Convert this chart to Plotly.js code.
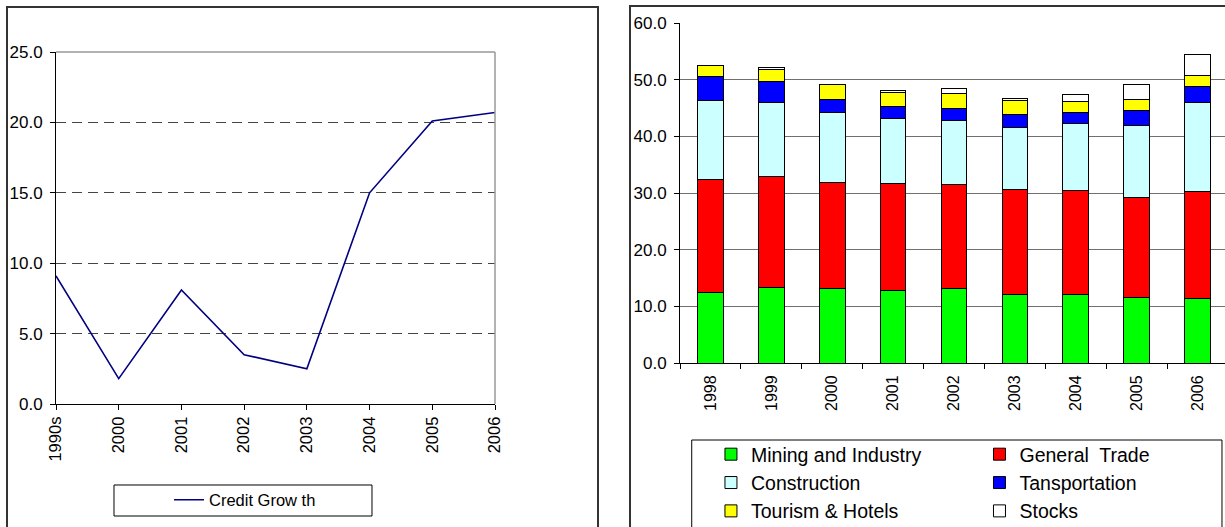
<!DOCTYPE html>
<html><head><meta charset="utf-8">
<script src="https://cdn.plot.ly/plotly-3.0.1.min.js"></script>
<style>
html,body{margin:0;padding:0;width:1225px;height:527px;overflow:hidden;background:#fff;}
.frame{position:absolute;box-sizing:border-box;border:2px solid #333;}
#lframe{left:6px;top:6px;width:593px;height:560px;}
#rframe{left:629px;top:5px;width:700px;height:560px;}
#left{position:absolute;left:0;top:0;width:605px;height:527px;}
#right{position:absolute;left:630px;top:0;width:610px;height:527px;}
</style></head>
<body>
<div class="frame" id="lframe"></div>
<div class="frame" id="rframe"></div>
<div id="left"></div>
<div id="right"></div>
<script>
// ---- Left chart data ----
const creditLabels = ['1990s','2000','2001','2002','2003','2004','2005','2006'];
const creditGrowth = [9.1, 1.8, 8.1, 3.5, 2.5, 15.0, 20.1, 20.7];

// ---- Right chart data ----
const years = ['1998','1999','2000','2001','2002','2003','2004','2005','2006'];
const mining       = [12.5, 13.3, 13.1, 12.8, 13.1, 12.1, 12.1, 11.6, 11.3];
const generalTrade = [19.8, 19.6, 18.7, 18.9, 18.4, 18.5, 18.3, 17.6, 19.0];
const construction = [14.1, 13.0, 12.4, 11.4, 11.3, 11.0, 11.8, 12.7, 15.7];
const transport    = [4.1, 3.7, 2.3, 2.2, 2.2, 2.3, 2.0, 2.6, 2.8];
const tourism      = [2.0, 2.2, 2.6, 2.5, 2.6, 2.5, 2.0, 2.0, 2.0];
const stocks       = [0.0, 0.3, 0.0, 0.3, 0.9, 0.3, 1.2, 2.6, 3.7];

const FONT = 'Liberation Sans, Arial, sans-serif';
const cfg = {displayModeBar:false, staticPlot:true};

// ---------- Left: line chart ----------
const leftLayout = {
  width:605, height:527,
  margin:{l:56, r:110, t:52, b:123, autoexpand:false},
  paper_bgcolor:'rgba(0,0,0,0)', plot_bgcolor:'#fff',
  font:{family:FONT, size:16, color:'#000'},
  showlegend:true,
  legend:{x:0.2574, y:-0.2727, xanchor:'left', yanchor:'middle',
          bgcolor:'rgba(0,0,0,0)', borderwidth:0, font:{family:FONT, size:16.5, color:'#000'}},
  xaxis:{type:'category', range:[0,7], showgrid:false, zeroline:false,
         showline:true, linecolor:'#000', linewidth:1,
         ticks:'outside', ticklen:5, tickcolor:'#000', tickangle:-90,
         ticklabelstandoff:0, tickfont:{family:FONT, size:16.5, color:'#000'}},
  yaxis:{range:[0,25], dtick:5, tick0:0, tickformat:'.1f',
         showgrid:true, gridcolor:'#444', griddash:'10px,6px', gridwidth:1,
         zeroline:false, showline:true, linecolor:'#000', linewidth:1,
         ticks:'outside', ticklen:5, tickcolor:'#000',
         ticklabelstandoff:4, tickfont:{family:FONT, size:17, color:'#000'}},
  shapes:[
    {type:'line', xref:'paper', yref:'paper', x0:0, x1:1, y0:1, y1:1, line:{color:'#999', width:1.5}, layer:'above'},
    {type:'line', xref:'paper', yref:'paper', x0:1, x1:1, y0:0, y1:1, line:{color:'#999', width:1.5}, layer:'above'},
    {type:'rect', xref:'paper', yref:'paper', x0:0.1321, x1:0.7198, y0:-0.2301, y1:-0.3182, line:{color:'#000', width:1}}
  ]
};
Plotly.newPlot('left', [{
  type:'scatter', mode:'lines', x:creditLabels, y:creditGrowth,
  name:'Credit Grow th', line:{color:'#000080', width:1.6}
}], leftLayout, cfg);

// ---------- Right: stacked bars ----------
const series = [
  {name:'Mining and Industry', y:mining, color:'#00FF00'},
  {name:'General  Trade', y:generalTrade, color:'#FF0000'},
  {name:'Construction', y:construction, color:'#CCFFFF'},
  {name:'Tansportation', y:transport, color:'#0000FF'},
  {name:'Tourism &amp; Hotels', y:tourism, color:'#FFFF00'},
  {name:'Stocks', y:stocks, color:'#FFFFFF'}
];
const barTraces = series.map(s => ({
  type:'bar', x:years, y:s.y, name:s.name,
  marker:{color:s.color, line:{color:'#000', width:1}}
}));
const rightLayout = {
  width:610, height:527,
  margin:{l:50, r:12, t:23, b:164, autoexpand:false},
  paper_bgcolor:'rgba(0,0,0,0)', plot_bgcolor:'#fff',
  font:{family:FONT, size:16, color:'#000'},
  barmode:'stack', bargap:0.58,
  showlegend:true,
  legend:{orientation:'h', entrywidth:0.49, entrywidthmode:'fraction', traceorder:'normal',
          x:0.0565, y:-0.2118, xanchor:'left', yanchor:'top',
          bgcolor:'rgba(0,0,0,0)', borderwidth:0, font:{family:FONT, size:19.5, color:'#000'}},
  xaxis:{type:'category', range:[-0.5,8.5], showgrid:false, zeroline:false,
         showline:true, linecolor:'#000', linewidth:1, tickson:'boundaries',
         ticks:'outside', ticklen:5, tickcolor:'#000', tickangle:-90,
         ticklabelstandoff:5, tickfont:{family:FONT, size:16, color:'#000'}},
  yaxis:{range:[0,60], dtick:10, tick0:0, tickformat:'.1f',
         showgrid:true, gridcolor:'#707070', gridwidth:1, zeroline:false,
         showline:true, linecolor:'#000', linewidth:1,
         ticks:'outside', ticklen:5, tickcolor:'#000',
         ticklabelstandoff:4, tickfont:{family:FONT, size:17, color:'#000'}},
  shapes:[
    {type:'rect', xref:'paper', yref:'paper', x0:0.0214, x1:0.989, y0:-0.2265, y1:-0.7, line:{color:'#000', width:1}}
  ]
};
Plotly.newPlot('right', barTraces, rightLayout, cfg);
</script>
</body></html>
